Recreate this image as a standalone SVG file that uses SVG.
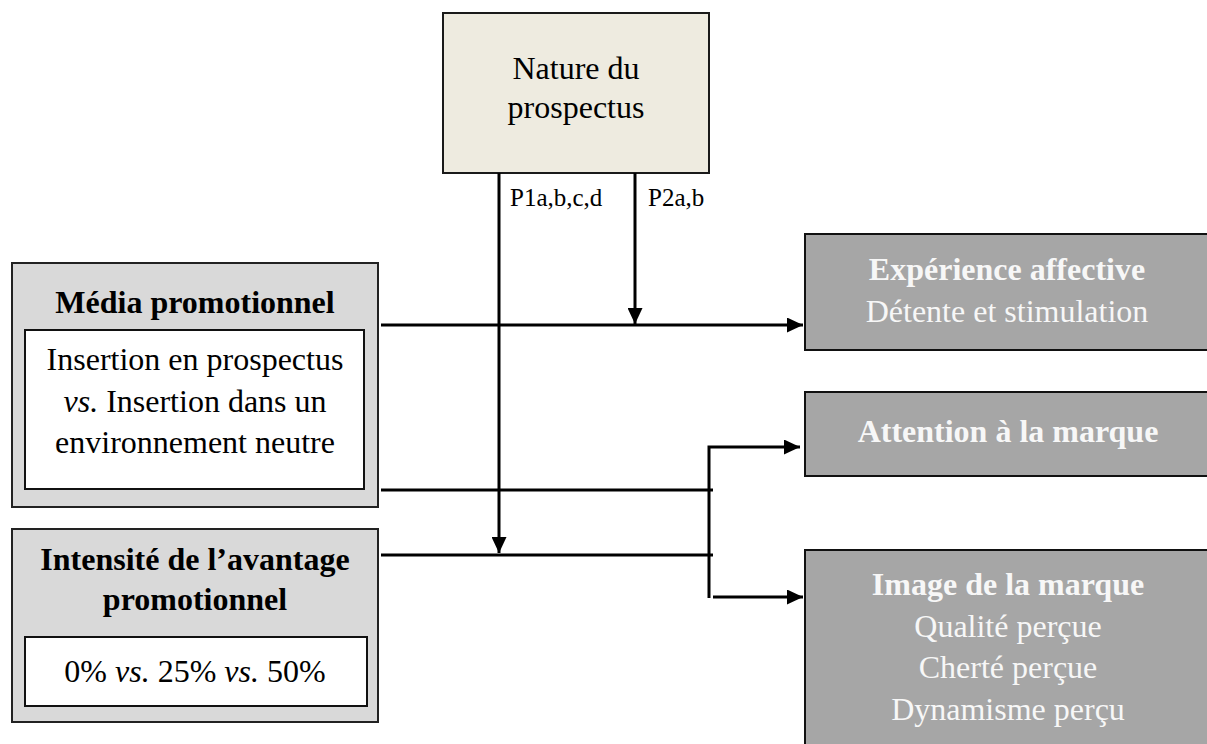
<svg xmlns="http://www.w3.org/2000/svg" width="1207" height="744" viewBox="0 0 1207 744">
<style>
text{font-family:"Liberation Serif","Times New Roman",serif;font-size:32px;fill:#000;text-anchor:middle}
.b{font-weight:bold}
.w{fill:#F7F7F7}
.lbl{font-size:25px;text-anchor:start}
.nat{fill:#EEEBE0;stroke:#1a1a1a;stroke-width:2}
.left{fill:#D9D9D9;stroke:#222;stroke-width:2}
.inner{fill:#FFFFFF;stroke:#111;stroke-width:2}
.right{fill:#A6A6A6;stroke:#111;stroke-width:2}
.c{fill:none;stroke:#000;stroke-width:3}
</style>
<defs>
<marker id="ah" markerUnits="userSpaceOnUse" markerWidth="17" markerHeight="15" refX="16" refY="7.5" orient="auto">
<path d="M0,0 L16,7.5 L0,15 z" fill="#000"/>
</marker>
</defs>
<g id="nature">
<rect class="nat" x="443" y="13" width="266" height="160"/>
<text x="576" y="79">Nature du</text>
<text x="576" y="118">prospectus</text>
</g>
<g id="media">
<rect class="left" x="12" y="263" width="366" height="244"/>
<text class="b" x="195" y="313">Média promotionnel</text>
<rect class="inner" x="25" y="330" width="339" height="159"/>
<text x="195" y="370">Insertion en prospectus</text>
<text x="195" y="412"><tspan font-style="italic">vs.</tspan> Insertion dans un</text>
<text x="195" y="453">environnement neutre</text>
</g>
<g id="intensite">
<rect class="left" x="12" y="529" width="366" height="193"/>
<text class="b" x="195" y="570">Intensité de l’avantage</text>
<text class="b" x="195" y="610">promotionnel</text>
<rect class="inner" x="25" y="637" width="342" height="69"/>
<text x="195" y="682">0% <tspan font-style="italic">vs.</tspan> 25% <tspan font-style="italic">vs.</tspan> 50%</text>
</g>
<g id="experience">
<rect class="right" x="805" y="234" width="410" height="116"/>
<text class="b w" x="1007" y="280">Expérience affective</text>
<text class="w" x="1007" y="322">Détente et stimulation</text>
</g>
<g id="attention">
<rect class="right" x="805" y="392" width="410" height="84"/>
<text class="b w" x="1008" y="442">Attention à la marque</text>
</g>
<g id="image">
<rect class="right" x="805" y="550" width="410" height="210"/>
<text class="b w" x="1008" y="595">Image de la marque</text>
<text class="w" x="1008" y="637">Qualité perçue</text>
<text class="w" x="1008" y="678">Cherté perçue</text>
<text class="w" x="1008" y="720">Dynamisme perçu</text>
</g>
<g id="connectors">
<path class="c" d="M381,325 H803" marker-end="url(#ah)"/>
<path class="c" d="M635,173 V324" marker-end="url(#ah)"/>
<path class="c" d="M499,173 V553" marker-end="url(#ah)"/>
<path class="c" d="M381,490 H713"/>
<path class="c" d="M381,555 H713"/>
<path class="c" d="M709,598 V447 H800" marker-end="url(#ah)"/>
<path class="c" d="M713,597 H803" marker-end="url(#ah)"/>
<text class="lbl" x="510" y="206">P1a,b,c,d</text>
<text class="lbl" x="648" y="206">P2a,b</text>
</g>
</svg>
